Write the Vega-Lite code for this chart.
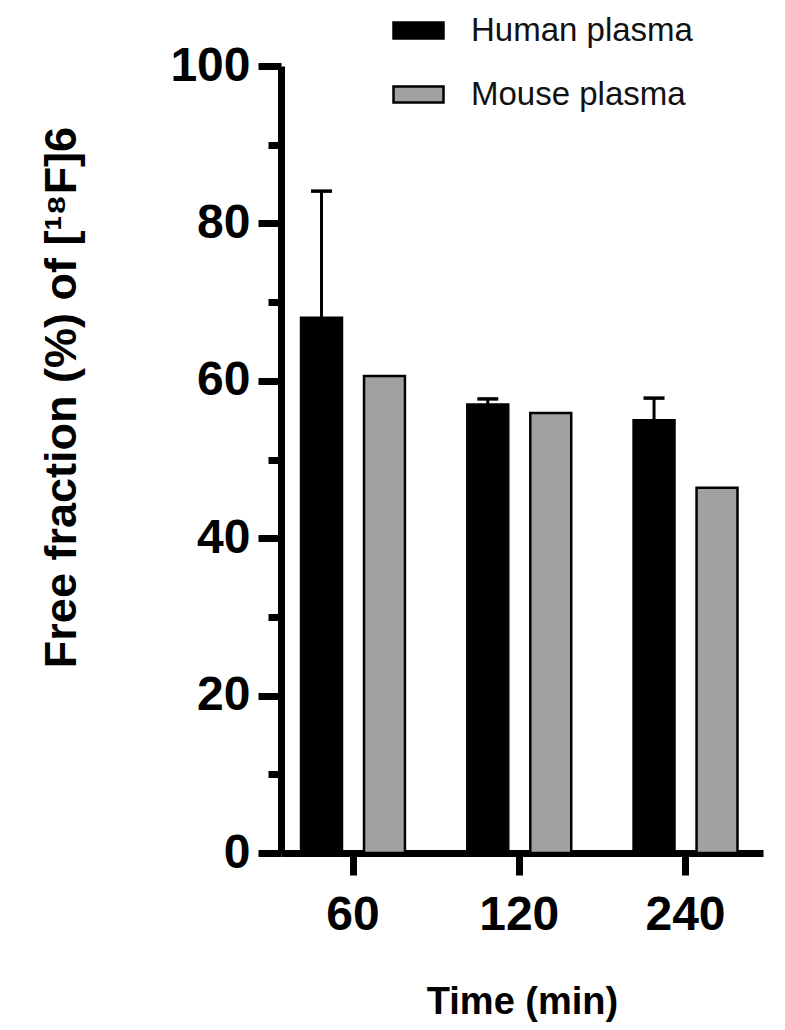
{
  "$schema": "https://vega.github.io/schema/vega-lite/v6.json",
  "autosize": "none",
  "width": 482,
  "height": 787,
  "padding": {"left": 281, "top": 66, "right": 22, "bottom": 177},
  "background": "white",
  "config": {
    "font": "Liberation Sans",
    "view": {"stroke": null}
  },
  "data": {
    "values": [
      {"Time": "60", "Series": "Human plasma", "value": 68.0, "upper": 84.1},
      {"Time": "60", "Series": "Mouse plasma", "value": 60.6},
      {"Time": "120", "Series": "Human plasma", "value": 57.0, "upper": 57.7},
      {"Time": "120", "Series": "Mouse plasma", "value": 55.9},
      {"Time": "240", "Series": "Human plasma", "value": 55.0, "upper": 57.8},
      {"Time": "240", "Series": "Mouse plasma", "value": 46.4}
    ]
  },
  "encoding": {
    "x": {
      "field": "Time",
      "type": "ordinal",
      "sort": ["60", "120", "240"],
      "scale": {"paddingInner": 0.375, "paddingOuter": 0.137, "align": 0.44},
      "axis": {
        "title": "Time (min)",
        "titleFont": "Liberation Sans",
        "titleFontSize": 38,
        "titleFontWeight": "bold",
        "titleColor": "black",
        "titleBaseline": "alphabetic",
        "titleY": 160,
        "labelAngle": 0,
        "labelFont": "Liberation Sans",
        "labelFontSize": 48,
        "labelFontWeight": "bold",
        "labelColor": "black",
        "labelPadding": 16,
        "domainColor": "black",
        "domainWidth": 7,
        "tickColor": "black",
        "tickWidth": 7,
        "tickSize": 22,
        "grid": false
      }
    },
    "xOffset": {
      "field": "Series",
      "type": "nominal",
      "sort": ["Human plasma", "Mouse plasma"],
      "scale": {"domain": ["Human plasma", "Mouse plasma"], "paddingInner": 0.35, "paddingOuter": 0}
    }
  },
  "layer": [
    {
      "mark": {"type": "bar", "stroke": "black", "strokeWidth": 2.5},
      "encoding": {
        "y": {
          "field": "value",
          "type": "quantitative",
          "scale": {"domain": [0, 100], "nice": false},
          "axis": {
            "orient": "left",
            "values": [0, 20, 40, 60, 80, 100],
            "title": "Free fraction (%) of [¹⁸F]6",
            "titleFont": "Liberation Sans",
            "titleFontSize": 45,
            "titleFontWeight": "bold",
            "titleColor": "black",
            "titleAngle": 270,
            "titleAlign": "center",
            "titleBaseline": "alphabetic",
            "titleX": -206,
            "titleY": 331,
            "labelFont": "Liberation Sans",
            "labelFontSize": 48,
            "labelFontWeight": "bold",
            "labelColor": "black",
            "labelPadding": 8,
            "domainColor": "black",
            "domainWidth": 7,
            "tickColor": "black",
            "tickWidth": 7,
            "tickSize": 23,
            "grid": false
          }
        },
        "color": {
          "field": "Series",
          "type": "nominal",
          "scale": {"domain": ["Human plasma", "Mouse plasma"], "range": ["#000000", "#a1a1a4"]},
          "legend": {
            "orient": "none",
            "legendX": 111,
            "legendY": -62,
            "title": null,
            "padding": 0,
            "symbolType": "M-1,-0.32L1,-0.32L1,0.32L-1,0.32Z",
            "symbolSize": 2500,
            "symbolStrokeColor": "black",
            "symbolStrokeWidth": 2.5,
            "symbolOpacity": 1,
            "labelFont": "Liberation Sans",
            "labelFontSize": 33,
            "labelColor": "#111111",
            "labelOffset": 26,
            "labelLimit": 0,
            "rowPadding": 20
          }
        }
      }
    },
    {
      "transform": [{"filter": "isValid(datum.upper)"}],
      "mark": {"type": "rule", "color": "black", "strokeWidth": 3},
      "encoding": {
        "y": {
          "field": "value",
          "type": "quantitative",
          "axis": {
            "orient": "left",
            "values": [10, 30, 50, 70, 90],
            "title": null,
            "labels": false,
            "domain": false,
            "grid": false,
            "tickColor": "black",
            "tickWidth": 7,
            "tickSize": 13
          }
        },
        "y2": {"field": "upper"}
      }
    },
    {
      "transform": [{"filter": "isValid(datum.upper)"}],
      "mark": {"type": "tick", "color": "black", "thickness": 3.5, "size": 21, "orient": "horizontal", "opacity": 1},
      "encoding": {
        "y": {"field": "upper", "type": "quantitative", "axis": null}
      }
    }
  ],
  "resolve": {"axis": {"y": "independent"}}
}
